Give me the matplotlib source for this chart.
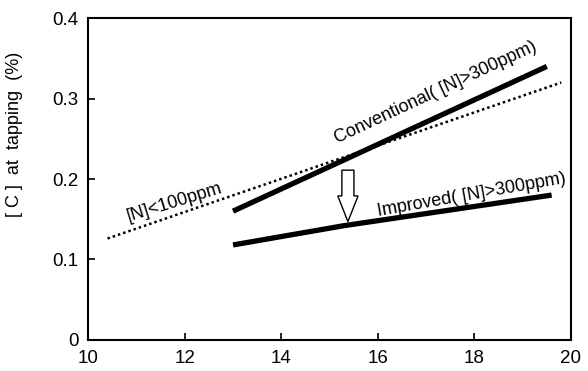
import matplotlib
matplotlib.use("Agg")
import matplotlib.pyplot as plt
from matplotlib.patches import FancyArrow

plt.rcParams['font.family'] = ['Liberation Sans', 'DejaVu Sans']

# Data
low_n_x = [10.4, 19.8]
low_n_y = [0.126, 0.320]
conv_x = [13.0, 19.5]
conv_y = [0.160, 0.340]
impr_x = [13.0, 15.3, 19.6]
impr_y = [0.118, 0.142, 0.180]

x_ticks = [10, 12, 14, 16, 18, 20]
y_ticks = [0, 0.1, 0.2, 0.3, 0.4]
y_tick_labels = ['0', '0.1', '0.2', '0.3', '0.4']

fig = plt.figure(figsize=(5.88, 3.71), dpi=100)
ax = fig.add_axes([0.150, 0.084, 0.821, 0.867])

ax.plot(low_n_x, low_n_y, color='black', lw=1.8, linestyle=(0, (1, 1.2)))
ax.plot(conv_x, conv_y, color='black', lw=3.8, solid_capstyle='butt')
ax.plot(impr_x, impr_y, color='black', lw=3.8, solid_capstyle='butt')

# hollow arrow
ax.add_patch(FancyArrow(15.38, 0.211, 0, -0.064, width=0.25, head_width=0.42,
                        head_length=0.032, length_includes_head=True,
                        facecolor='white', edgecolor='black', lw=1.0, zorder=5))

ax.text(17.2, 0.308, 'Conventional( [N]>300ppm)', rotation=25, fontsize=13,
        ha='center', va='center', rotation_mode='anchor')
ax.text(17.95, 0.180, 'Improved( [N]>300ppm)', rotation=10, fontsize=13,
        ha='center', va='center', rotation_mode='anchor')
ax.text(11.78, 0.171, '[N]<100ppm', rotation=17, fontsize=13,
        ha='center', va='center', rotation_mode='anchor')

ax.set_xlim(10, 20)
ax.set_ylim(0, 0.4)
ax.set_xticks(x_ticks)
ax.set_yticks(y_ticks)
ax.set_yticklabels(y_tick_labels)
ax.tick_params(direction='in', length=5, width=1.2, labelsize=13.5, pad=7)
ax.set_ylabel('[ C ]  at  tapping  (%)', fontsize=13)
ax.yaxis.set_label_coords(-0.135, 0.64)
for s in ax.spines.values():
    s.set_linewidth(1.5)

fig.savefig('out.png', dpi=100)
